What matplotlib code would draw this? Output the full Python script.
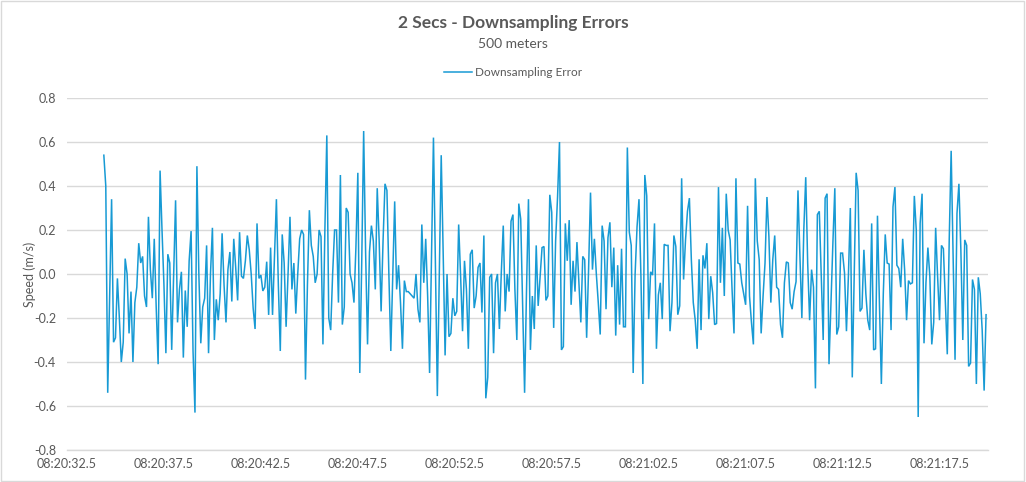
import matplotlib
matplotlib.use("Agg")
import matplotlib.pyplot as plt
import numpy as np

# ---- data -------------------------------------------------------------
title = "2 Secs - Downsampling Errors"
subtitle = "500 meters"
series_name = "Downsampling Error"
y_label = "Speed (m/s)"

axis_start_sec = 32.5      # seconds after 08:20:00 of first category
data_start_sec = 34.4      # first sample
step_sec = 0.1
axis_end_sec = 80.0
tick_every_sec = 5.0

errors = [
    0.54, 0.40, -0.54, -0.10, 0.34, -0.31, -0.29, -0.02, -0.20, -0.40,
    -0.31, 0.07, 0.00, -0.27, -0.08, -0.40, -0.13, -0.06, 0.14, 0.05,
    0.08, -0.10, -0.15, 0.26, 0.02, -0.11, 0.16, -0.15, -0.41, 0.47,
    0.20, -0.05, -0.36, 0.09, 0.05, -0.345, 0.00, 0.335, -0.22, -0.07,
    0.01, -0.38, -0.075, -0.24, 0.06, 0.195, -0.35, -0.63, 0.49, 0.00,
    -0.315, -0.15, -0.11, 0.13, -0.36, 0.00, 0.21, -0.30, -0.115, -0.21,
    -0.09, 0.185, -0.05, -0.22, 0.02, 0.10, -0.125, 0.16, 0.03, -0.12,
    0.19, -0.01, -0.02, 0.06, 0.175, 0.11, 0.00, -0.155, -0.25, 0.23,
    -0.02, -0.005, -0.077, -0.06, 0.056, -0.186, 0.12, -0.186, 0.08, 0.34,
    -0.05, -0.35, 0.18, 0.05, -0.24, 0.00, 0.26, -0.07, 0.05, -0.18,
    0.00, 0.16, 0.20, 0.18, -0.48, -0.05, 0.29, 0.13, 0.08, -0.04,
    0.00, 0.20, 0.17, -0.32, 0.20, 0.63, -0.20, -0.255, 0.00, 0.20,
    0.20, -0.13, 0.45, -0.23, -0.15, 0.30, 0.28, 0.00, -0.04, -0.13,
    0.12, 0.46, -0.45, 0.05, 0.65, 0.10, -0.32, 0.10, 0.22, 0.15,
    -0.07, 0.39, 0.15, -0.17, 0.15, 0.41, 0.38, 0.00, -0.35, 0.00,
    0.33, -0.07, 0.04, -0.13, -0.34, -0.03, -0.08, -0.08, -0.09, -0.10,
    -0.11, 0.00, -0.16, -0.22, 0.225, -0.04, 0.16, -0.10, -0.45, 0.10,
    0.62, 0.05, -0.555, 0.00, 0.54, 0.10, -0.37, 0.00, -0.285, -0.27,
    -0.11, -0.19, -0.17, 0.225, -0.01, -0.26, 0.06, -0.07, -0.34, 0.09,
    0.11, -0.155, -0.10, 0.03, 0.05, -0.175, 0.175, -0.565, -0.47, -0.015,
    0.00, -0.36, -0.04, 0.00, -0.25, 0.01, 0.22, -0.17, 0.00, -0.08,
    0.24, 0.27, -0.07, -0.30, 0.32, 0.25, -0.15, -0.54, -0.07, 0.34,
    -0.345, -0.10, -0.25, 0.13, -0.145, -0.01, 0.12, 0.125, -0.12, -0.10,
    0.36, 0.28, -0.245, 0.15, 0.35, 0.60, -0.345, -0.33, 0.23, 0.06,
    0.245, -0.14, 0.06, -0.08, 0.145, -0.04, -0.22, 0.08, 0.065, -0.29,
    0.02, 0.37, 0.02, 0.16, 0.00, -0.13, -0.275, 0.22, 0.15, -0.16,
    0.165, 0.235, -0.06, 0.12, -0.28, 0.04, -0.23, 0.115, -0.24, -0.24,
    0.575, 0.19, 0.13, -0.45, 0.00, 0.215, 0.34, -0.01, -0.50, 0.45,
    0.355, -0.205, 0.01, -0.005, 0.23, -0.34, -0.095, -0.04, -0.205, 0.135,
    0.13, 0.13, -0.26, -0.13, 0.175, 0.125, -0.185, -0.145, 0.435, -0.025,
    0.155, 0.285, 0.345, 0.065, -0.13, -0.21, -0.34, 0.067, -0.255, 0.085,
    0.025, 0.14, -0.205, -0.01, -0.085, -0.23, -0.225, 0.395, -0.04, 0.21,
    -0.10, 0.365, 0.20, 0.155, -0.07, -0.27, 0.435, 0.05, 0.045, -0.04,
    -0.09, -0.14, 0.31, -0.10, -0.22, -0.32, 0.435, 0.15, 0.065, -0.27,
    -0.10, 0.05, 0.35, 0.17, -0.13, 0.065, 0.175, -0.06, -0.07, -0.23,
    -0.29, -0.04, 0.055, 0.05, -0.13, -0.16, -0.08, -0.035, 0.38, 0.08,
    -0.20, 0.20, 0.44, 0.05, -0.21, 0.02, -0.06, -0.52, 0.27, 0.285,
    0.00, -0.30, 0.345, 0.365, -0.41, -0.13, 0.14, 0.39, -0.275, -0.24,
    0.095, 0.095, 0.005, -0.26, -0.01, 0.30, -0.47, -0.01, 0.46, 0.38,
    -0.17, -0.155, 0.11, -0.09, -0.21, -0.255, 0.23, -0.345, -0.34, 0.265,
    -0.13, -0.50, -0.09, 0.18, 0.05, 0.045, -0.255, 0.305, 0.395, 0.04,
    0.025, -0.06, 0.16, 0.02, -0.21, -0.03, -0.045, -0.04, 0.355, 0.20,
    -0.65, 0.23, 0.365, -0.315, -0.04, 0.12, -0.01, -0.32, -0.22, 0.21,
    -0.01, -0.21, 0.13, 0.115, -0.13, -0.365, 0.155, 0.56, 0.08, -0.39,
    0.275, 0.41, 0.11, -0.30, 0.155, 0.13, -0.42, -0.405, -0.025, -0.07,
    -0.50, -0.015, -0.09, -0.255, -0.53, -0.185,
]

y_ticks = [-0.8, -0.6, -0.4, -0.2, 0.0, 0.2, 0.4, 0.6, 0.8]

# ---- styling ----------------------------------------------------------
line_color = "#179ad4"
text_color = "#595959"
grid_color = "#d9d9d9"
plt.rcParams["font.family"] = ["Lato", "DejaVu Sans"]

times = data_start_sec + step_sec * np.arange(len(errors))

fig = plt.figure(figsize=(10.26, 4.82), dpi=100)
fig.patch.set_facecolor("white")
ax = fig.add_axes([67 / 1026, 1 - 450 / 482, (988 - 67) / 1026, (450 - 98) / 482])

ax.plot(times, errors, color=line_color, linewidth=1.1, label=series_name,
        solid_joinstyle="miter")

ax.set_xlim(axis_start_sec, axis_end_sec)
ax.set_ylim(-0.8, 0.8)
ax.set_yticks(y_ticks)
ax.set_yticklabels([f"{v:.1f}" for v in y_ticks])

xt = np.arange(axis_start_sec, axis_end_sec, tick_every_sec)
ax.set_xticks(xt)
def fmt(s):
    m = 20 + int(s // 60)
    sec = s - 60 * int(s // 60)
    return f"08:{m:02d}:{sec:04.1f}"
ax.set_xticklabels([fmt(s) for s in xt])

ax.grid(axis="y", color=grid_color, linewidth=1)
ax.set_axisbelow(True)
for sp in ["top", "right", "left"]:
    ax.spines[sp].set_visible(False)
ax.spines["bottom"].set_color(grid_color)
ax.spines["bottom"].set_linewidth(1)
ax.tick_params(axis="both", length=0, colors=text_color, labelsize=9)
ax.tick_params(axis="x", pad=6)
ax.tick_params(axis="y", pad=8)

ax.set_ylabel(y_label, color=text_color, fontsize=9)
ax.yaxis.set_label_coords(-0.034, 0.5)

fig.text(0.5, 1 - 23 / 482, title, ha="center", va="center",
         fontsize=12.5, fontweight="bold", color=text_color)
fig.text(0.5, 1 - 44 / 482, subtitle, ha="center", va="center",
         fontsize=10, color=text_color)

leg = fig.legend(loc="center", bbox_to_anchor=(0.5, 1 - 73 / 482), frameon=False,
                 fontsize=8.5, handlelength=2.4, handletextpad=0.3)
for t in leg.get_texts():
    t.set_color(text_color)

# chart border
fig.add_artist(plt.Rectangle((0.001, 0.002), 0.997, 0.995, transform=fig.transFigure,
                             fill=False, edgecolor="#d9d9d9", linewidth=1))

fig.savefig("out.png", dpi=100)
